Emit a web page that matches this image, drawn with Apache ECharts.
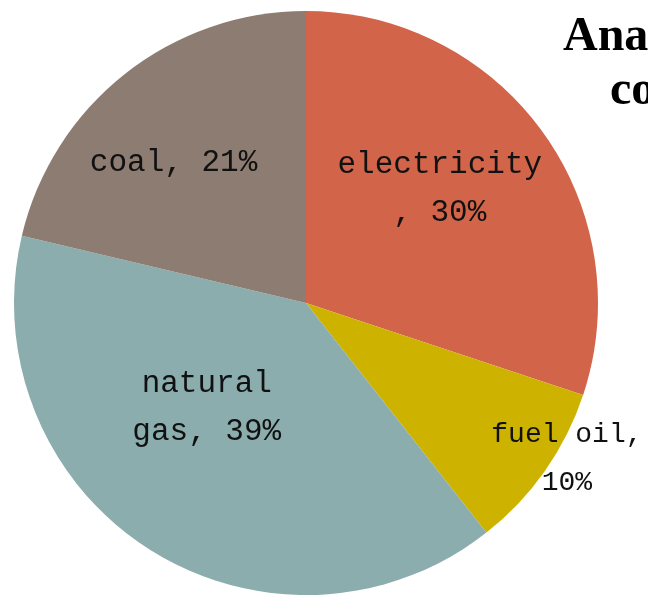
<!DOCTYPE html>
<html>
<head>
<meta charset="utf-8">
<script src="https://cdn.jsdelivr.net/npm/echarts@6/dist/echarts.min.js"></script>
<style>html,body{margin:0;padding:0;background:#fff;}#chart{width:648px;height:597px;}</style>
</head>
<body>
<div id="chart"></div>
<script>
// Data
var categories = ['electricity', 'fuel oil', 'natural gas', 'coal'];
var shares = [30.1, 9.3, 39.3, 21.3];          // slice sizes as drawn
var labelPercents = ['30%', '10%', '39%', '21%']; // percentages printed on the chart
var labelTexts = ['electricity\n, 30%', 'fuel oil,\n10%', 'natural\ngas, 39%', 'coal, 21%'];
var titleLines = ['Analysis of energy', 'consumption'];

var colors = ['#D2644A', '#CDB300', '#8BADAE', '#8D7C71'];
var labelOffsets = [[13, -27], [139, 70], [-19, -21], [-40, -23]];
var labelSizes = [31, 28, 31, 31];

var chart = echarts.init(document.getElementById('chart'));
chart.setOption({
  animation: false,
  backgroundColor: '#ffffff',
  title: [
    { text: titleLines[0], left: 558, top: 9,
      textStyle: { fontFamily: 'Liberation Serif', fontWeight: 'bold', fontSize: 48, color: '#000' } },
    { text: titleLines[1], left: 605, top: 63,
      textStyle: { fontFamily: 'Liberation Serif', fontWeight: 'bold', fontSize: 48, color: '#000' } }
  ],
  series: [{
    type: 'pie',
    center: [306, 303],
    radius: 292,
    startAngle: 90,
    clockwise: true,
    avoidLabelOverlap: false,
    emphasis: { disabled: true },
    itemStyle: { borderWidth: 0 },
    label: {
      show: true,
      position: 'inside',
      fontFamily: 'Liberation Mono',
      color: '#111',
      lineHeight: 48,
      align: 'center',
      formatter: function (p) { return labelTexts[p.dataIndex]; }
    },
    labelLine: { show: false },
    labelLayout: function (p) {
      var o = labelOffsets[p.dataIndex];
      return { dx: o[0], dy: o[1] };
    },
    data: categories.map(function (c, i) {
      return {
        name: c,
        value: shares[i],
        itemStyle: { color: colors[i] },
        label: { fontSize: labelSizes[i] }
      };
    })
  }]
});
</script>
</body>
</html>
